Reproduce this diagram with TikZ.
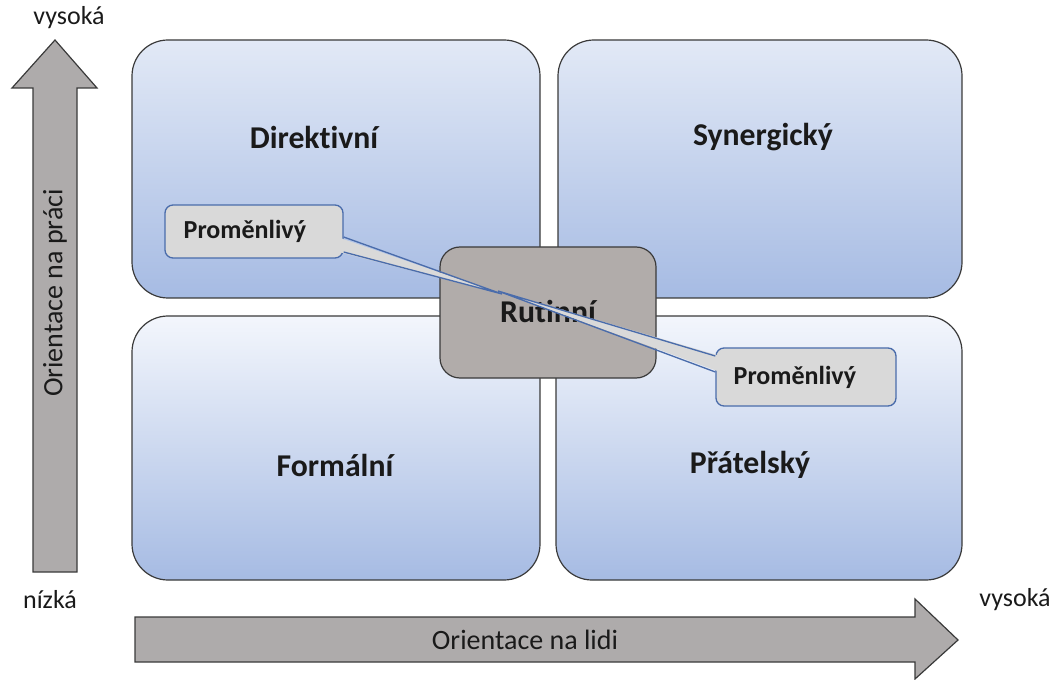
\documentclass[tikz,border=0pt]{standalone}
\usepackage{fontspec}
\setmainfont{Carlito}[Ligatures=NoCommon]
\usetikzlibrary{calc}
\definecolor{qtopA}{HTML}{E2E9F6}
\definecolor{qtopB}{HTML}{F3F6FC}
\definecolor{qbot}{HTML}{A6BBE3}
\definecolor{rutfill}{HTML}{B1ACAA}
\definecolor{callfill}{HTML}{D9D9D9}
\definecolor{callline}{HTML}{4A6CAB}
\definecolor{arrfill}{HTML}{AEABAB}
\definecolor{edge}{HTML}{3A3A3A}
\definecolor{txt}{HTML}{1A1A1A}
\begin{document}
\begin{tikzpicture}[x=0.75pt,y=-0.75pt,
  quad/.style={draw=edge, line width=0.9pt, rounded corners=27pt, bottom color=qbot, inner sep=0pt},
  qlabel/.style={text=txt, font=\bfseries\fontsize{23.8}{28}\selectfont},
  callbox/.style={draw=callline, line width=1pt, fill=callfill, rounded corners=6pt, inner sep=0pt},
  calltext/.style={text=txt, font=\bfseries\fontsize{19.5}{23}\selectfont, anchor=west},
  wedgeline/.style={draw=callline, line width=1pt},
  bigarrow/.style={draw=edge, line width=0.9pt, fill=arrfill},
  axtext/.style={text=txt, font=\fontsize{21}{25}\selectfont},
  endtext/.style={text=txt, font=\fontsize{19.5}{23}\selectfont}]
\useasboundingbox (0,0) rectangle (1055,680);

% axes arrows
\draw[bigarrow] (33,572)--(33,88)--(12,88)--(55,40)--(97,88)--(77,88)--(77,572)--cycle;
\draw[bigarrow] (135,617)--(915,617)--(915,599)--(958,640)--(915,679)--(915,662)--(135,662)--cycle;
\node[axtext, rotate=90] (ya) at (55,293) {Orientace na práci};
\node[axtext] (xa) at (525,640) {Orientace na lidi};
\node[endtext] (yhi) at (69,18) {vysoká};
\node[endtext] (lo) at (50,600) {nízká};
\node[endtext] (xhi) at (1015,600) {vysoká};

% quadrants
\node[quad, top color=qtopA, minimum width=306pt, minimum height=193.5pt] (tl) at (336,169) {};
\node[quad, top color=qtopA, minimum width=303pt, minimum height=193.5pt] (tr) at (760,169) {};
\node[quad, top color=qtopB, minimum width=306pt, minimum height=198pt] (bl) at (336,448) {};
\node[quad, top color=qtopB, minimum width=304.5pt, minimum height=198pt] (br) at (759,448) {};
\node[qlabel] (ltl) at (314,137) {Direktivní};
\node[qlabel] (ltr) at (763,137) {Synergický};
\node[qlabel] (lbl) at (335,465) {Formální};
\node[qlabel] (lbr) at (750,465) {Přátelský};

% centre
\node[draw=edge, line width=0.9pt, fill=rutfill, rounded corners=15pt, minimum width=162pt, minimum height=98.25pt, inner sep=0pt] (rut) at (548,312.5) {};
\node[qlabel] (lrut) at (548,311) {Rutinní};

% callouts
\coordinate (tipL) at (502,294);
\coordinate (tipR) at (498,291);
\node[callbox, minimum width=133.5pt, minimum height=39.75pt] (pl) at (254,231.5) {};
\node[callbox, minimum width=135pt, minimum height=43.5pt] (pr) at (806,377) {};
\fill[callfill] ($(pl.east)+(-5,6)$) -- (tipL) -- ($(pl.east)+(-5,20.5)$) -- cycle;
\draw[wedgeline] ($(pl.east)+(0,5.5)$) -- (tipL) -- ($(pl.east)+(0,20.5)$);
\fill[callfill] ($(pr.west)+(5,-21)$) -- (tipR) -- ($(pr.west)+(5,-5)$) -- cycle;
\draw[wedgeline] ($(pr.west)+(0,-21)$) -- (tipR) -- ($(pr.west)+(0,-5)$);
\node[calltext] (tpl) at (179,231) {Proměnlivý};
\node[calltext] (tpr) at (729,377) {Proměnlivý};
\end{tikzpicture}
\end{document}
